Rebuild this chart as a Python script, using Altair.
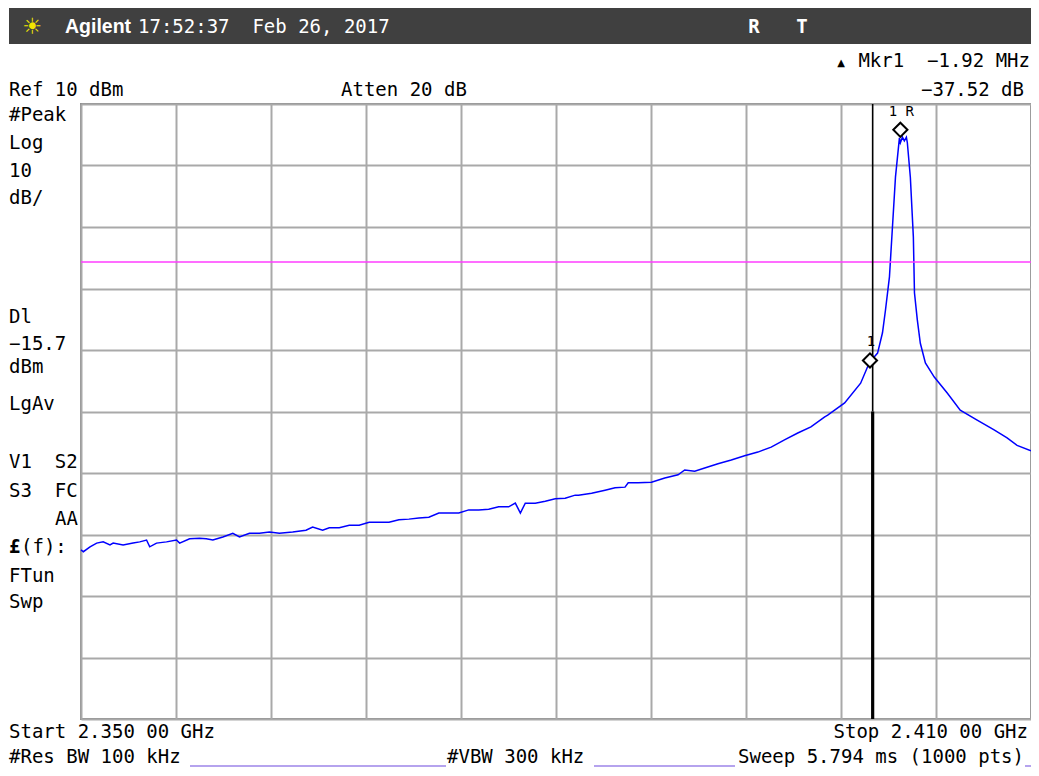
import altair as alt
import pandas as pd

# ---------------- data ----------------
freq_mhz = [
    2350.00, 2350.15, 2350.57, 2350.99, 2351.40, 2351.83, 2352.03, 2352.66, 2353.29, 2353.71,
    2354.14, 2354.34, 2354.77, 2355.40, 2356.03, 2356.23, 2356.86, 2357.49, 2357.91, 2358.33,
    2358.96, 2359.59, 2360.01, 2360.64, 2361.27, 2361.90, 2362.53, 2363.37, 2364.21, 2364.63,
    2365.26, 2365.68, 2366.31, 2366.94, 2367.57, 2368.20, 2368.83, 2369.45, 2370.08, 2370.71,
    2371.34, 2371.97, 2372.60, 2373.23, 2373.86, 2374.49, 2375.12, 2375.75, 2376.38, 2377.01,
    2377.43, 2377.75, 2378.06, 2378.69, 2379.32, 2379.95, 2380.58, 2381.21, 2381.42, 2382.25,
    2383.10, 2383.73, 2384.36, 2384.56, 2385.19, 2386.03, 2386.87, 2387.71, 2388.13, 2388.76,
    2389.39, 2390.23, 2391.07, 2391.91, 2392.75, 2393.59, 2394.43, 2395.27, 2396.10, 2396.95,
    2397.16, 2398.23, 2399.24, 2399.80, 2400.31, 2400.62, 2400.81, 2401.06, 2401.25, 2401.44,
    2401.69, 2401.75, 2401.88, 2402.00, 2402.13, 2402.19, 2402.38, 2402.57, 2402.64, 2402.82,
    2403.01, 2403.33, 2403.89, 2404.71, 2405.53, 2406.60, 2407.67, 2408.49, 2409.12, 2410.00,
]
level_dbm = [
    -62.5, -62.8, -62.0, -61.4, -61.2, -61.7, -61.4, -61.7, -61.4, -61.2,
    -60.9, -62.0, -61.4, -61.2, -60.9, -61.4, -60.7, -60.6, -60.7, -60.9,
    -60.4, -59.8, -60.4, -59.8, -59.8, -59.6, -59.8, -59.6, -59.3, -58.8,
    -59.3, -58.9, -58.9, -58.5, -58.5, -58.0, -58.0, -58.0, -57.6, -57.5,
    -57.3, -57.2, -56.5, -56.5, -56.5, -56.0, -56.0, -55.9, -55.5, -55.5,
    -54.9, -56.5, -54.9, -54.9, -54.6, -54.2, -54.1, -53.6, -53.6, -53.3,
    -52.8, -52.4, -52.3, -51.6, -51.6, -51.5, -50.8, -50.3, -49.5, -49.7,
    -49.2, -48.5, -47.9, -47.2, -46.6, -45.8, -44.6, -43.5, -42.5, -40.9,
    -40.6, -38.6, -35.4, -32.0, -30.5, -27.2, -23.5, -18.1, -10.0, -1.9,
    4.5, 3.7, 4.6, 4.0, 4.6, 3.7, -1.9, -11.6, -20.7, -25.1,
    -28.9, -32.1, -34.4, -37.0, -39.8, -41.4, -43.0, -44.3, -45.5, -46.4,
]

marker_freq = [2401.75, 2399.83]
marker_level = [5.8, -31.7]
marker_label = ["1 R", "1"]

display_line_dbm = [-15.7]
freq_line_mhz = [2400.0]

grid_freq = [2350, 2356, 2362, 2368, 2374, 2380, 2386, 2392, 2398, 2404, 2410]
grid_dbm = [10, 0, -10, -20, -30, -40, -50, -60, -70, -80, -90]

# ---------------- layout constants ----------------
PAD_L, PAD_T = 73, 96      # plot origin on page = (8+PAD_L, 8+PAD_T) = (81, 104)
OX, OY = 8 + PAD_L, 8 + PAD_T
W, H = 950, 615
MONO = "DejaVu Sans Mono"
FS = 19
SP2 = "\u00A0\u00A0"

xs = alt.Scale(domain=[2350, 2410], nice=False, zero=False)
ys = alt.Scale(domain=[-90, 10], nice=False, zero=False)

trace_df = pd.DataFrame({"f": freq_mhz, "d": level_dbm})

trace = alt.Chart(trace_df).mark_line(color="#0000ff", strokeWidth=1.5, interpolate="linear").encode(
    x=alt.X("f:Q", scale=xs, axis=alt.Axis(values=grid_freq, grid=True, labels=False, ticks=False,
                                           domain=False, title=None, gridColor="#a9a9a9", gridWidth=2,
                                           gridOpacity=1)),
    y=alt.Y("d:Q", scale=ys, axis=alt.Axis(values=grid_dbm, grid=True, labels=False, ticks=False,
                                           domain=False, title=None, gridColor="#a9a9a9", gridWidth=2,
                                           gridOpacity=1)),
)

dl = alt.Chart(pd.DataFrame({"d": display_line_dbm})).mark_rule(color="#ff3cff", strokeWidth=1.6).encode(
    y=alt.Y("d:Q", scale=ys)
)

fl_df = pd.DataFrame({"f": freq_line_mhz, "top": [10], "mid": [-40], "bot": [-90]})
fline_thin = alt.Chart(fl_df).mark_rule(color="#000000", strokeWidth=1.6).encode(
    x=alt.X("f:Q", scale=xs), y=alt.Y("top:Q", scale=ys), y2="mid:Q"
)
fline_thick = alt.Chart(fl_df).mark_rule(color="#000000", strokeWidth=3.2).encode(
    x=alt.X("f:Q", scale=xs), y=alt.Y("mid:Q", scale=ys), y2="bot:Q"
)

mk_df = pd.DataFrame({"f": marker_freq, "d": marker_level, "lab": marker_label})
markers = alt.Chart(mk_df).mark_point(shape="diamond", size=200, filled=False, color="#000000",
                                      strokeWidth=2, fill="#ffffff", fillOpacity=1).encode(
    x=alt.X("f:Q", scale=xs), y=alt.Y("d:Q", scale=ys)
)
mk_text = alt.Chart(mk_df).mark_text(font=MONO, fontSize=14, color="#000000", dy=-14, baseline="alphabetic",
                                     dx=1).encode(
    x=alt.X("f:Q", scale=xs), y=alt.Y("d:Q", scale=ys), text="lab:N"
)

one = pd.DataFrame({"a": [0]})

header = alt.Chart(one).mark_rect(color="#404040").encode(
    x=alt.value(9 - OX), x2=alt.value(1031 - OX), y=alt.value(7 - OY), y2=alt.value(44 - OY)
)

underlines = []
for x1, x2 in [(190, 446), (594, 735), (1025, 1031)]:
    underlines.append(
        alt.Chart(one).mark_rule(color="#9d85e8", strokeWidth=1.5).encode(
            x=alt.value(x1 - OX), x2=alt.value(x2 - OX), y=alt.value(766 - OY)
        )
    )

# (text, page_x, page_baseline_y, align, size, color, weight, font)
labels = [
    ("\u2600", 32, 34, "center", 22, "#f2e600", "normal", "DejaVu Sans"),
    ("Agilent", 65, 33, "left", 19.5, "#ffffff", "bold", "Liberation Sans"),
    ("17:52:37" + SP2 + "Feb 26, 2017", 138, 33, "left", FS, "#ffffff", "normal", MONO),
    ("R", 754, 33, "center", FS, "#ffffff", "bold", MONO),
    ("T", 802, 33, "center", FS, "#ffffff", "bold", MONO),
    ("\u25B2", 841, 66, "center", 10, "#000000", "normal", "DejaVu Sans"),
    ("Mkr1" + SP2 + "\u22121.92 MHz", 1030, 67, "right", FS, "#000000", "normal", MONO),
    ("\u221237.52 dB", 1024, 96, "right", FS, "#000000", "normal", MONO),
    ("Ref 10 dBm", 9, 96, "left", FS, "#000000", "normal", MONO),
    ("Atten 20 dB", 341, 96, "left", FS, "#000000", "normal", MONO),
    ("#Peak", 9, 121, "left", FS, "#000000", "normal", MONO),
    ("Log", 9, 149, "left", FS, "#000000", "normal", MONO),
    ("10", 9, 177, "left", FS, "#000000", "normal", MONO),
    ("dB/", 9, 204, "left", FS, "#000000", "normal", MONO),
    ("Dl", 9, 323, "left", FS, "#000000", "normal", MONO),
    ("\u221215.7", 9, 350, "left", FS, "#000000", "normal", MONO),
    ("dBm", 9, 373, "left", FS, "#000000", "normal", MONO),
    ("LgAv", 9, 410, "left", FS, "#000000", "normal", MONO),
    ("V1" + SP2 + "S2", 9, 468, "left", FS, "#000000", "normal", MONO),
    ("S3" + SP2 + "FC", 9, 497, "left", FS, "#000000", "normal", MONO),
    ("AA", 78, 525, "right", FS, "#000000", "normal", MONO),
    ("\u00A3", 9, 553, "left", FS, "#000000", "bold", MONO),
    ("(f):", 21, 553, "left", FS, "#000000", "normal", MONO),
    ("FTun", 9, 582, "left", FS, "#000000", "normal", MONO),
    ("Swp", 9, 608, "left", FS, "#000000", "normal", MONO),
    ("Start 2.350 00 GHz", 9, 738, "left", FS, "#000000", "normal", MONO),
    ("Stop 2.410 00 GHz", 1028, 738, "right", FS, "#000000", "normal", MONO),
    ("#Res BW 100 kHz", 9, 763, "left", FS, "#000000", "normal", MONO),
    ("#VBW 300 kHz", 447, 763, "left", FS, "#000000", "normal", MONO),
    ("Sweep 5.794 ms (1000 pts)", 1024, 763, "right", FS, "#000000", "normal", MONO),
]

text_layers = []
for txt, px, py, al, sz, col, wt, fnt in labels:
    text_layers.append(
        alt.Chart(pd.DataFrame({"t": [txt]})).mark_text(
            align=al, baseline="alphabetic", fontSize=sz, color=col, fontWeight=wt, font=fnt
        ).encode(x=alt.value(px - OX), y=alt.value(py - OY), text="t:N")
    )

chart = alt.layer(
    trace, dl, fline_thin, fline_thick, markers, mk_text, header, *underlines, *text_layers
).properties(
    width=W, height=H,
    padding={"left": PAD_L, "top": PAD_T, "right": 0, "bottom": 49},
    autosize=alt.AutoSizeParams(type="none"),
    background="#ffffff",
).configure_view(stroke="#8f8f8f", strokeWidth=2)

chart.save("out.html", embed_options={"renderer": "svg", "actions": False})
